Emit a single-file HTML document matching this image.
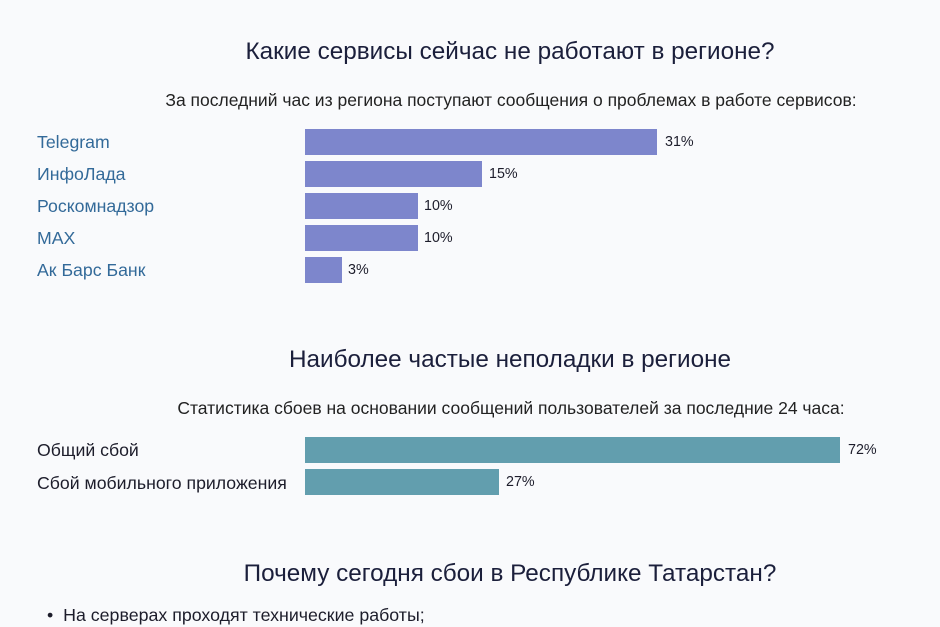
<!DOCTYPE html>
<html><head><meta charset="utf-8"><style>
body{margin:0;width:940px;height:627px;background:#f9fafc;font-family:"Liberation Sans","DejaVu Sans",sans-serif;position:relative;overflow:hidden;color:#1d1d2b}
.a{position:absolute;white-space:nowrap}
.t{font-size:24.3px;color:#1b1f3b;left:0;width:1020px;text-align:center}
.s{font-size:17.5px;left:0;width:1022px;text-align:center;color:#222}
.l{left:37px;font-size:17.7px;line-height:25px}
.lb{color:#336a99}
.b{height:26px}
.p{font-size:14.3px;line-height:26px}
</style></head><body>
<div class="a t" style="top:38px">Какие сервисы сейчас не работают в регионе?</div>
<div class="a s" style="top:90px">За последний час из региона поступают сообщения о проблемах в работе сервисов:</div>

<div class="a l lb" style="top:130px">Telegram</div>
<div class="a l lb" style="top:162px">ИнфоЛада</div>
<div class="a l lb" style="top:194px">Роскомнадзор</div>
<div class="a l lb" style="top:226px">MAX</div>
<div class="a l lb" style="top:258px">Ак Барс Банк</div>
<div class="a b" style="left:305px;top:129px;width:352px;background:#7d86cc"></div>
<div class="a b" style="left:305px;top:161px;width:177px;background:#7d86cc"></div>
<div class="a b" style="left:305px;top:193px;width:113px;background:#7d86cc"></div>
<div class="a b" style="left:305px;top:225px;width:113px;background:#7d86cc"></div>
<div class="a b" style="left:305px;top:257px;width:37px;background:#7d86cc"></div>
<div class="a p" style="left:665px;top:129px">31%</div>
<div class="a p" style="left:489px;top:161px">15%</div>
<div class="a p" style="left:424px;top:193px">10%</div>
<div class="a p" style="left:424px;top:225px">10%</div>
<div class="a p" style="left:348px;top:257px">3%</div>

<div class="a t" style="top:346px">Наиболее частые неполадки в регионе</div>
<div class="a s" style="top:398px">Статистика сбоев на основании сообщений пользователей за последние 24 часа:</div>
<div class="a l" style="top:438px">Общий сбой</div>
<div class="a l" style="top:471px">Сбой мобильного приложения</div>
<div class="a b" style="left:305px;top:437px;width:535px;background:#629eae"></div>
<div class="a b" style="left:305px;top:469px;width:194px;background:#629eae"></div>
<div class="a p" style="left:848px;top:437px">72%</div>
<div class="a p" style="left:506px;top:469px">27%</div>

<div class="a t" style="top:560px">Почему сегодня сбои в Республике Татарстан?</div>
<div class="a" style="left:47px;top:605px;font-size:17.8px">•&nbsp;&nbsp;На серверах проходят технические работы;</div>
</body></html>
